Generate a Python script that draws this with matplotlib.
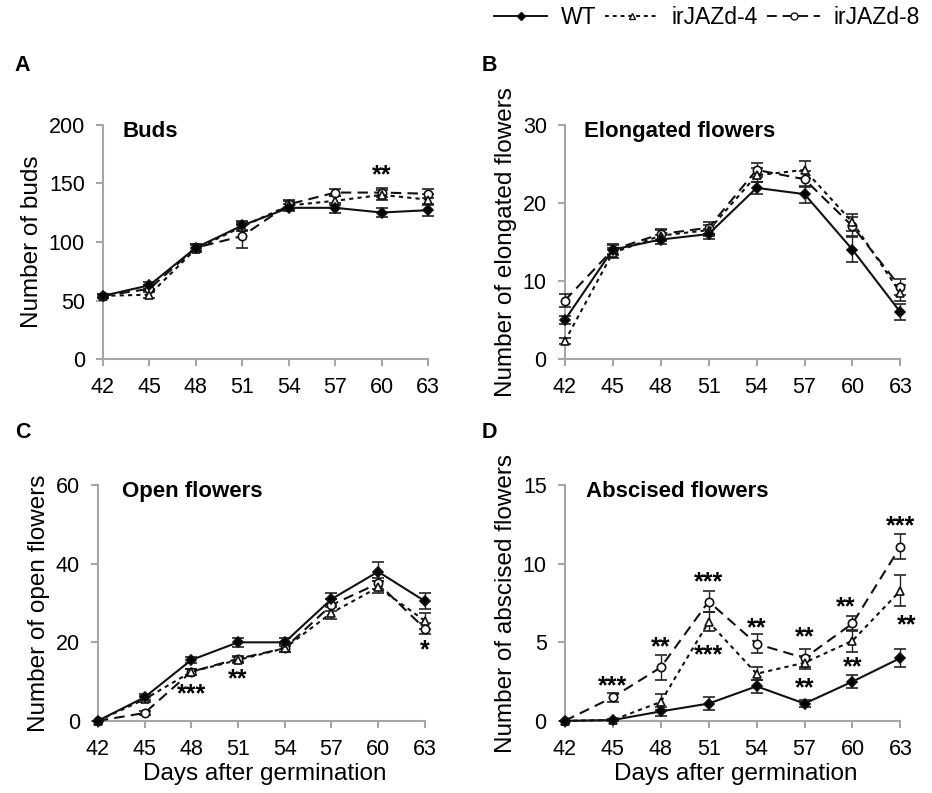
import numpy as np
import matplotlib
matplotlib.use("Agg")
import matplotlib.pyplot as plt
from matplotlib.lines import Line2D

plt.rcParams['font.family'] = ['Liberation Sans', 'DejaVu Sans']

days = [42, 45, 48, 51, 54, 57, 60, 63]
genotypes = ["WT", "irJAZd-4", "irJAZd-8"]

# --- A: buds ---
buds_wt = [54, 63, 95, 114, 129, 129, 125, 127]
buds_wt_err = [2, 3, 3, 4, 3, 4, 4, 5]
buds_j4 = [54, 55, 94, 113, 131, 135, 140, 136]
buds_j4_err = [2, 3, 3, 4, 4, 4, 4, 5]
buds_j8 = [54, 60, 95, 105, 132, 142, 142, 141]
buds_j8_err = [2, 3, 3, 10, 4, 3, 4, 4]

# --- B: elongated flowers ---
elong_wt = [5.0, 14.0, 15.3, 16.0, 21.9, 21.1, 14.0, 6.0]
elong_wt_err = [0.5, 0.6, 0.6, 0.6, 0.8, 1.1, 1.6, 1.0]
elong_j4 = [2.3, 13.6, 15.8, 16.5, 23.5, 24.2, 17.5, 8.5]
elong_j4_err = [0.4, 0.6, 0.7, 0.7, 0.9, 1.1, 1.1, 1.0]
elong_j8 = [7.5, 14.0, 16.0, 16.8, 24.2, 23.0, 17.0, 9.2]
elong_j8_err = [0.8, 0.7, 0.7, 0.8, 0.9, 1.0, 1.2, 1.0]

# --- C: open flowers ---
open_wt = [0, 6.0, 15.5, 20.0, 20.0, 31.0, 38.0, 30.5]
open_wt_err = [0, 0.8, 0.8, 1.2, 1.0, 1.5, 2.5, 2.0]
open_j4 = [0, 5.5, 12.5, 15.5, 18.5, 27.5, 34.0, 25.5]
open_j4_err = [0, 0.8, 0.8, 0.8, 1.0, 1.5, 1.5, 2.0]
open_j8 = [0, 2.0, 12.5, 15.8, 18.5, 29.5, 35.0, 23.5]
open_j8_err = [0, 0.5, 0.8, 0.8, 1.0, 1.5, 1.5, 1.5]

# --- D: abscised flowers ---
absc_wt = [0, 0.05, 0.6, 1.1, 2.2, 1.1, 2.5, 4.0]
absc_wt_err = [0, 0.05, 0.3, 0.4, 0.4, 0.2, 0.4, 0.6]
absc_j4 = [0, 0.05, 1.2, 6.3, 3.0, 3.7, 5.1, 8.3]
absc_j4_err = [0, 0.05, 0.5, 0.6, 0.4, 0.4, 0.7, 1.0]
absc_j8 = [0, 1.5, 3.4, 7.6, 4.9, 4.0, 6.2, 11.1]
absc_j8_err = [0, 0.3, 0.8, 0.7, 0.6, 0.6, 0.5, 0.8]

# significance marks: (day, y, text)
stars_a = [(60, 157, "**")]
stars_b = []
stars_c = [(48, 6.8, "***"), (51, 10.6, "**"), (63, 18.0, "*")]
stars_d = [(45, 2.2, "***"), (48, 4.7, "**"), (51, 8.8, "***"), (51, 4.2, "***"),
           (54, 5.9, "**"), (57, 5.3, "**"), (57, 2.1, "**"), (59.6, 7.2, "**"),
           (60, 3.4, "**"), (63, 12.4, "***"), (63.4, 6.1, "**")]

titles = ["Buds", "Elongated flowers", "Open flowers", "Abscised flowers"]
ylabels = ["Number of buds", "Number of elongated flowers",
           "Number of open flowers", "Number of abscised flowers"]
letters = ["A", "B", "C", "D"]
ylims = [200, 30, 60, 15]
ysteps = [50, 10, 20, 5]

panels = [
    (buds_wt, buds_wt_err, buds_j4, buds_j4_err, buds_j8, buds_j8_err, stars_a),
    (elong_wt, elong_wt_err, elong_j4, elong_j4_err, elong_j8, elong_j8_err, stars_b),
    (open_wt, open_wt_err, open_j4, open_j4_err, open_j8, open_j8_err, stars_c),
    (absc_wt, absc_wt_err, absc_j4, absc_j4_err, absc_j8, absc_j8_err, stars_d),
]

# axes rectangles (figure fraction), x range 42..63.4
rects = [
    [0.1105, 0.547, 0.3555, 0.296],
    [0.606, 0.547, 0.367, 0.296],
    [0.105, 0.091, 0.3575, 0.297],
    [0.606, 0.091, 0.367, 0.297],
]
title_x = [0.058, 0.057, 0.072, 0.062]
letter_pos = [(0.016, 0.918), (0.517, 0.918), (0.016, 0.455), (0.517, 0.455)]

styles = [
    dict(ls='-', marker='D', mfc='black', ms=5.5),
    dict(ls=(0, (2, 2)), marker='^', mfc='white', ms=6),
    dict(ls=(0, (5, 3)), marker='o', mfc='white', ms=6),
]

fig = plt.figure(figsize=(9.32, 7.93), dpi=100)
spine_col = '#a6a6a6'

for i, (wt, wte, j4, j4e, j8, j8e, stars) in enumerate(panels):
    ax = fig.add_axes(rects[i])
    for vals, errs, st in [(j8, j8e, styles[2]), (j4, j4e, styles[1]), (wt, wte, styles[0])]:
        ax.errorbar(days, vals, yerr=errs, color='#111111', lw=1.5, ls=st['ls'],
                    marker=st['marker'], mfc=st['mfc'], mec='#111111', mew=1.2,
                    ms=st['ms'], ecolor='#222222', elinewidth=1.0, capsize=4,
                    capthick=1.0, clip_on=False, zorder=3)
    for x, y, s in stars:
        ax.text(x, y, s, ha='center', va='center', fontsize=18, fontweight='bold')
    ax.set_xlim(42, 63.4)
    ax.set_ylim(0, ylims[i])
    ax.set_xticks(days)
    ax.set_yticks(np.arange(0, ylims[i] + 0.1, ysteps[i]))
    for side in ['top', 'right']:
        ax.spines[side].set_visible(False)
    for side in ['left', 'bottom']:
        ax.spines[side].set_color(spine_col)
        ax.spines[side].set_linewidth(1.5)
    ax.spines['bottom'].set_bounds(42, 63)
    ax.tick_params(axis='both', labelsize=15.5, color=spine_col, width=1.5, length=5)
    ax.tick_params(axis='y', pad=8)
    ax.tick_params(axis='x', pad=8)
    ax.set_ylabel(ylabels[i], fontsize=17.5, labelpad=4)
    ax.text(title_x[i], 0.972, titles[i], transform=ax.transAxes, fontsize=16,
            fontweight='bold', va='center', ha='left')
    if i >= 2:
        ax.set_xlabel("Days after germination", fontsize=17.5, labelpad=2)
    fig.text(letter_pos[i][0], letter_pos[i][1], letters[i], fontsize=15.5,
             fontweight='bold', va='center')

handles = [Line2D([], [], color='#111111', lw=1.4, ls=st['ls'], marker=st['marker'],
                  mfc=st['mfc'], mec='#111111', ms=st['ms'] - 1)
           for st in styles]
fig.legend(handles, genotypes, loc='upper right', bbox_to_anchor=(0.997, 1.004),
           borderaxespad=0.0, ncol=3, frameon=False, fontsize=16.5, handlelength=2.3,
           columnspacing=0.4, handletextpad=0.6)

fig.savefig("out.png", dpi=100)
